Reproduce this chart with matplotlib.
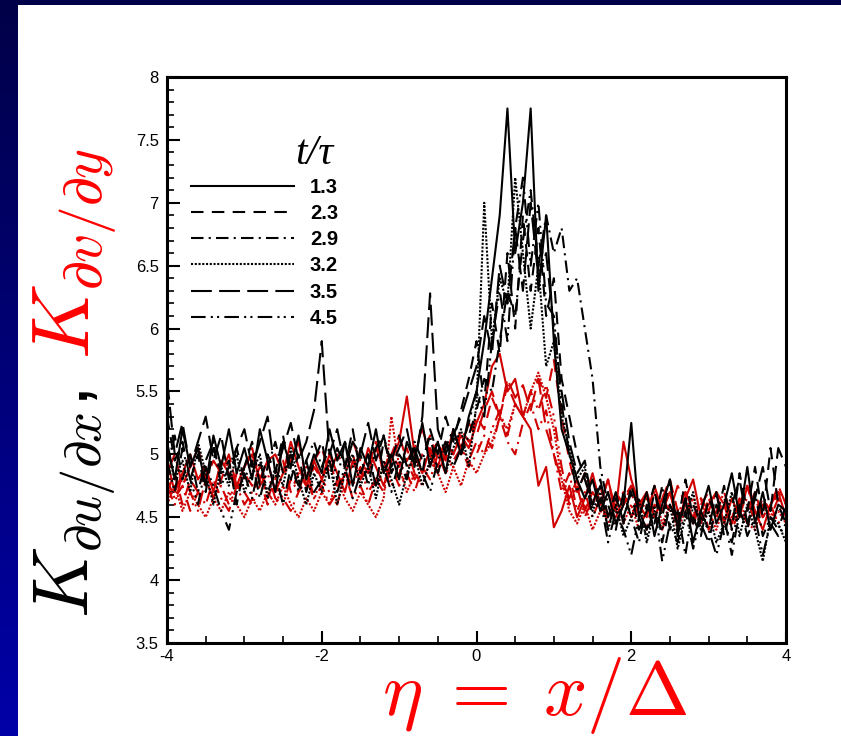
import numpy as np
import matplotlib
matplotlib.use("Agg")
import matplotlib.pyplot as plt
from matplotlib.lines import Line2D

plt.rcParams['mathtext.fontset'] = 'cm'
plt.rcParams['font.family'] = ['Liberation Sans', 'DejaVu Sans']

# eta = x / Delta, shared by all curves
eta = np.linspace(-4, 4, 81)

times = ['1.3', '2.3', '2.9', '3.2', '3.5', '4.5']

# K_du/dx (black curves)
kx_13 = [5.1, 4.8, 5.2, 4.9, 5.05, 4.75, 5.15, 4.9, 5.2, 4.85,
         5.05, 4.8, 5.2, 4.95, 4.7, 5.1, 4.9, 5.15, 4.8, 5.0,
         4.85, 5.2, 4.95, 5.1, 4.75, 5.05, 4.9, 5.2, 4.85, 5.0,
         4.8, 5.1, 4.95, 5.25, 4.9, 5.1, 4.85, 5.2, 5.0, 5.3,
         5.5, 5.9, 6.4, 6.9, 7.75, 6.6, 7.0, 7.75, 6.3, 6.9,
         5.9, 5.2, 5.0, 4.8, 4.65, 4.8, 4.55, 4.7, 4.45, 4.6,
         5.25, 4.5, 4.7, 4.35, 4.6, 4.8, 4.4, 4.65, 4.3, 4.55,
         4.75, 4.45, 4.6, 4.85, 4.5, 4.9, 4.45, 4.7, 4.4, 4.6,
         4.55]
kx_23 = [5.3, 4.95, 5.1, 4.8, 5.0, 4.7, 5.05, 4.85, 4.95, 4.6,
         4.9, 5.1, 4.75, 5.0, 4.85, 5.15, 4.8, 5.0, 4.7, 4.95,
         5.1, 4.8, 5.05, 4.9, 5.2, 4.85, 5.0, 4.75, 5.1, 4.95,
         5.15, 4.9, 5.05, 4.85, 5.2, 5.0, 5.3, 5.1, 5.35, 5.6,
         5.9, 5.4, 6.2, 5.8, 6.6, 6.0, 6.9, 6.3, 6.8, 6.1,
         6.4, 5.6, 5.3, 5.0, 4.8, 4.6, 4.75, 4.4, 4.65, 4.5,
         4.7, 4.4, 4.55, 4.75, 4.3, 4.6, 4.45, 4.8, 4.5, 4.35,
         4.65, 4.5, 4.75, 4.4, 4.85, 4.55, 4.9, 4.5, 5.05, 4.6,
         4.45]
kx_29 = [4.9, 5.15, 4.8, 5.0, 4.7, 4.95, 5.1, 4.75, 4.9, 5.05,
         4.8, 4.95, 4.65, 4.9, 5.1, 4.85, 5.0, 4.7, 4.95, 5.1,
         4.9, 5.05, 4.8, 5.1, 4.9, 5.0, 4.75, 5.05, 5.15, 4.85,
         5.0, 4.9, 5.1, 4.95, 5.15, 4.85, 5.05, 5.2, 5.0, 5.15,
         5.35, 5.6, 5.5, 5.9, 6.3, 6.1, 6.7, 7.1, 6.5, 6.9,
         6.6, 6.8, 6.3, 6.4, 6.0, 5.6, 4.9, 4.6, 4.4, 4.7,
         4.5, 4.3, 4.6, 4.45, 4.75, 4.4, 4.55, 4.2, 4.6, 4.45,
         4.3, 4.6, 4.5, 4.2, 4.55, 4.4, 4.7, 4.35, 4.5, 4.4,
         4.6]
kx_32 = [5.05, 4.8, 4.95, 4.7, 5.1, 4.85, 4.6, 4.9, 4.75, 5.0,
         4.7, 4.85, 5.0, 4.65, 4.9, 4.75, 5.05, 4.8, 4.6, 4.85,
         4.7, 4.95, 4.6, 4.85, 5.0, 4.75, 4.9, 4.65, 4.95, 4.8,
         4.6, 4.85, 5.0, 4.75, 4.95, 5.1, 4.85, 5.05, 5.2, 4.9,
         5.4, 7.0, 5.9, 6.4, 6.2, 7.2, 6.6, 6.0, 6.5, 5.7,
         5.9, 5.3, 5.05, 4.8, 4.9, 4.55, 4.7, 4.4, 4.6, 4.35,
         4.5, 4.65, 4.3, 4.55, 4.4, 4.6, 4.25, 4.5, 4.7, 4.4,
         4.55, 4.3, 4.45, 4.7, 4.35, 4.6, 4.4, 4.15, 4.5, 4.45,
         4.3]
kx_35 = [5.6, 5.0, 5.25, 4.9, 5.1, 5.3, 4.95, 5.15, 4.8, 5.05,
         5.2, 4.9, 5.1, 5.3, 4.85, 5.05, 5.25, 4.95, 5.1, 5.35,
         5.9, 5.0, 5.2, 4.9, 5.1, 5.0, 5.25, 4.95, 5.15, 4.9,
         5.05, 5.2, 4.9, 5.3, 6.28, 5.2, 5.0, 5.15, 5.3, 5.5,
         5.7, 6.1, 5.8, 6.5, 6.2, 6.8, 6.3, 7.0, 6.4, 6.6,
         6.0, 5.5, 5.1, 4.85, 4.95, 4.6, 4.8, 4.5, 4.7, 4.45,
         4.75, 4.55, 4.4, 4.7, 4.5, 4.8, 4.35, 4.65, 4.45, 4.55,
         4.4, 4.7, 4.35, 4.6, 4.8, 4.45, 4.65, 4.9, 4.55, 5.05,
         4.9]
kx_45 = [4.95, 4.7, 5.05, 4.8, 4.6, 4.9, 4.75, 4.55, 4.4, 4.7,
         4.85, 4.65, 4.95, 4.7, 4.85, 4.6, 4.9, 4.75, 4.95, 4.7,
         4.8, 4.95, 4.7, 4.9, 4.65, 4.85, 5.0, 4.75, 4.9, 4.7,
         4.95, 4.8, 5.05, 4.85, 4.7, 4.95, 5.1, 4.9, 5.05, 5.25,
         5.5, 5.3, 5.9, 6.3, 5.9, 6.8, 7.2, 6.5, 7.0, 6.2,
         6.1, 5.4, 5.0, 4.7, 4.85, 4.5, 4.65, 4.3, 4.55, 4.4,
         4.2, 4.5, 4.35, 4.6, 4.15, 4.45, 4.3, 4.55, 4.25, 4.5,
         4.4, 4.2, 4.45, 4.3, 4.6, 4.35, 4.5, 4.2, 4.45, 4.35,
         4.45]

# K_dv/dy (red curves)
ky_13 = [4.95, 4.7, 4.85, 5.0, 4.8, 4.9, 4.7, 4.95, 4.85, 4.75,
         4.9, 5.0, 4.8, 4.95, 4.7, 4.85, 5.1, 4.9, 4.75, 4.95,
         4.8, 5.0, 4.85, 4.7, 4.95, 4.8, 5.05, 4.9, 4.75, 4.95,
         5.1, 5.46, 5.0, 4.85, 5.05, 4.9, 5.1, 5.0, 5.15, 5.05,
         5.25, 5.4, 5.7, 5.8, 5.5, 5.6, 5.3, 5.2, 4.75, 4.9,
         4.42, 4.55, 4.75, 4.5, 4.65, 4.85, 4.6, 4.8, 4.55, 5.1,
         4.8, 4.6, 4.5, 4.75, 4.55, 4.7, 4.45, 4.65, 4.8, 4.5,
         4.6, 4.7, 4.45, 4.65, 4.5, 4.75, 4.55, 4.4, 4.6, 4.7,
         4.5]
ky_23 = [4.7, 4.85, 4.6, 4.8, 4.7, 4.9, 4.65, 4.8, 4.95, 4.7,
         4.85, 4.75, 4.9, 4.65, 4.8, 4.95, 4.7, 4.85, 4.75, 4.9,
         4.8, 4.95, 4.75, 4.85, 5.0, 4.8, 4.9, 5.1, 4.85, 5.0,
         4.9, 5.05, 4.85, 5.0, 5.15, 4.95, 5.1, 5.0, 5.2, 5.1,
         5.3, 5.2, 5.45, 5.3, 5.55, 5.4, 5.3, 5.5, 5.6, 5.45,
         5.75, 5.3, 4.95, 4.7, 4.85, 4.6, 4.75, 4.5, 4.7, 4.6,
         4.75, 4.55, 4.7, 4.5, 4.65, 4.8, 4.55, 4.7, 4.45, 4.6,
         4.7, 4.5, 4.65, 4.45, 4.6, 4.75, 4.5, 4.65, 4.55, 4.7,
         4.6]
ky_29 = [4.8, 4.65, 4.75, 4.55, 4.7, 4.6, 4.8, 4.65, 4.55, 4.75,
         4.6, 4.7, 4.8, 4.6, 4.75, 4.65, 4.55, 4.7, 4.8, 4.65,
         4.75, 4.6, 4.7, 4.85, 4.65, 4.75, 4.6, 4.8, 4.7, 4.9,
         4.75, 4.85, 4.7, 4.9, 4.8, 5.0, 4.85, 4.95, 5.05, 4.9,
         5.0, 5.15, 5.05, 5.3, 5.1, 5.0, 5.25, 5.4, 5.2, 5.35,
         5.0, 4.7, 4.85, 4.55, 4.7, 4.5, 4.65, 4.45, 4.6, 4.7,
         4.5, 4.65, 4.4, 4.6, 4.55, 4.7, 4.45, 4.6, 4.5, 4.65,
         4.4, 4.55, 4.7, 4.5, 4.6, 4.45, 4.65, 4.5, 4.6, 4.45,
         4.55]
ky_32 = [4.6, 4.75, 4.55, 4.7, 4.6, 4.5, 4.65, 4.55, 4.7, 4.6,
         4.5, 4.65, 4.55, 4.7, 4.6, 4.75, 4.6, 4.5, 4.65, 4.55,
         4.7, 4.6, 4.8, 4.65, 4.55, 4.7, 4.6, 4.5, 4.65, 5.3,
         4.9, 4.7, 4.85, 4.75, 4.95, 4.85, 4.7, 4.9, 4.75, 4.95,
         4.85, 5.0, 5.1, 5.3, 5.2, 5.4, 5.3, 5.5, 5.65, 5.45,
         5.2, 4.8, 4.55, 4.45, 4.6, 4.4, 4.55, 4.5, 4.65, 4.45,
         4.6, 4.4, 4.55, 4.7, 4.45, 4.6, 4.4, 4.55, 4.65, 4.45,
         4.55, 4.4, 4.6, 4.5, 4.65, 4.45, 4.4, 4.6, 4.5, 4.55,
         4.45]
ky_35 = [4.85, 5.0, 4.75, 4.9, 5.05, 4.8, 4.95, 4.85, 5.0, 4.75,
         4.9, 5.05, 4.8, 4.95, 5.0, 4.85, 4.95, 5.1, 4.8, 4.95,
         5.05, 4.85, 5.0, 4.9, 5.1, 4.95, 4.85, 5.05, 4.9, 5.0,
         5.15, 4.95, 5.05, 5.2, 5.0, 5.1, 4.95, 5.2, 5.05, 5.25,
         5.15, 5.35, 5.5, 5.3, 5.6, 5.45, 5.55, 5.35, 5.6, 5.2,
         5.0, 4.8, 4.65, 4.8, 4.55, 4.7, 4.6, 4.8, 4.5, 4.65,
         4.75, 4.6, 4.7, 4.5, 4.65, 4.55, 4.75, 4.6, 4.45, 4.65,
         4.55, 4.7, 4.6, 4.45, 4.65, 4.55, 4.7, 4.5, 4.6, 4.75,
         4.6]
ky_45 = [4.75, 4.6, 4.85, 4.7, 4.55, 4.8, 4.65, 4.75, 4.6, 4.85,
         4.7, 4.6, 4.75, 4.85, 4.65, 4.6, 4.8, 4.7, 4.9, 4.65,
         4.8, 4.7, 4.6, 4.85, 4.75, 4.9, 4.7, 4.8, 4.95, 4.75,
         4.85, 4.95, 4.8, 4.9, 5.0, 4.85, 5.0, 4.9, 5.05, 4.95,
         5.1, 5.0, 5.2, 5.35, 5.15, 5.4, 5.3, 5.5, 5.35, 5.55,
         5.3, 4.9, 4.6, 4.75, 4.5, 4.65, 4.55, 4.7, 4.45, 4.6,
         4.7, 4.5, 4.65, 4.55, 4.4, 4.6, 4.5, 4.7, 4.55, 4.45,
         4.65, 4.5, 4.6, 4.4, 4.55, 4.65, 4.45, 4.6, 4.5, 4.65,
         4.5]

black_sets = [kx_13, kx_23, kx_29, kx_32, kx_35, kx_45]
red_sets = [ky_13, ky_23, ky_29, ky_32, ky_35, ky_45]
styles = ['-', (0, (6, 4)), (0, (6, 2.5, 1, 2.5)), (0, (1, 0.8)),
          (0, (10, 3.5)), (0, (7, 2.5, 1, 2, 1, 2.5))]
red = '#d00000'
label_red = '#ff0000'


def main():
    fig = plt.figure(figsize=(8.41, 7.36), dpi=100)
    fig.patch.set_facecolor('white')

    # dark blue frame (left gradient bar + top strip)
    bar = fig.add_axes([0, 0, 18 / 841, 1])
    grad = np.linspace(0, 1, 256).reshape(-1, 1)
    cmap = matplotlib.colors.LinearSegmentedColormap.from_list(
        'frame', ['#0000a8', '#000048'])
    bar.imshow(grad, aspect='auto', cmap=cmap, origin='lower')
    bar.axis('off')
    top = fig.add_axes([0, 1 - 5 / 736, 1, 5 / 736])
    top.set_facecolor('#000048')
    top.set_xticks([])
    top.set_yticks([])
    for s in top.spines.values():
        s.set_visible(False)

    ax = fig.add_axes([167 / 841, 1 - 643 / 736, 619 / 841, 566 / 736])

    for yv, ls in zip(red_sets, styles):
        ax.plot(eta, yv, color=red, ls=ls, lw=1.5)
    for yv, ls in zip(black_sets, styles):
        ax.plot(eta, yv, color='black', ls=ls, lw=1.5)

    ax.set_xlim(-4, 4)
    ax.set_ylim(3.5, 8)
    ax.set_xticks([-4, -2, 0, 2, 4])
    ax.set_xticks(np.arange(-4, 4.01, 0.5), minor=True)
    ax.set_yticks(np.arange(3.5, 8.01, 0.5))
    ax.set_yticks(np.arange(3.5, 8.01, 0.1), minor=True)
    ax.set_xticklabels(['-4', '-2', '0', '2', '4'])
    ax.set_yticklabels(['3.5', '4', '4.5', '5', '5.5', '6', '6.5', '7', '7.5', '8'])
    ax.tick_params(which='both', direction='in', top=False, right=False,
                   labelsize=12, width=1.5)
    ax.tick_params(which='major', length=9)
    ax.tick_params(which='minor', length=5, width=1.2)
    ax.tick_params(axis='x', pad=4)
    ax.tick_params(axis='y', pad=6)
    for s in ax.spines.values():
        s.set_linewidth(2.2)

    handles = [Line2D([], [], color='black', ls=ls, lw=1.5) for ls in styles]
    ax.legend(handles, times, loc='upper left',
              bbox_to_anchor=(0.039, 0.822), frameon=False,
              handlelength=5.1, handletextpad=0.8, labelspacing=0.36,
              borderpad=0, borderaxespad=0,
              prop={'weight': 'bold', 'size': 14.5})
    ax.text(0.238, 0.865, 't/τ', transform=ax.transAxes, ha='center',
            va='center', fontsize=30, family='Liberation Serif', style='italic')

    fig.text(75 / 841, 0.315, r'$K_{\partial u/\partial x}$,', rotation=90,
             ha='center', va='center', fontsize=56, color='black')
    fig.text(75 / 841, 0.655, r'$K_{\partial v/\partial y}$', rotation=90,
             ha='center', va='center', fontsize=59, color=label_red)
    fig.text(535 / 841, 0.055, r'$\eta\;=\;x/\Delta$', ha='center',
             va='center', fontsize=55, color=label_red)

    plt.savefig('out.png', dpi=100)


if __name__ == '__main__':
    main()
